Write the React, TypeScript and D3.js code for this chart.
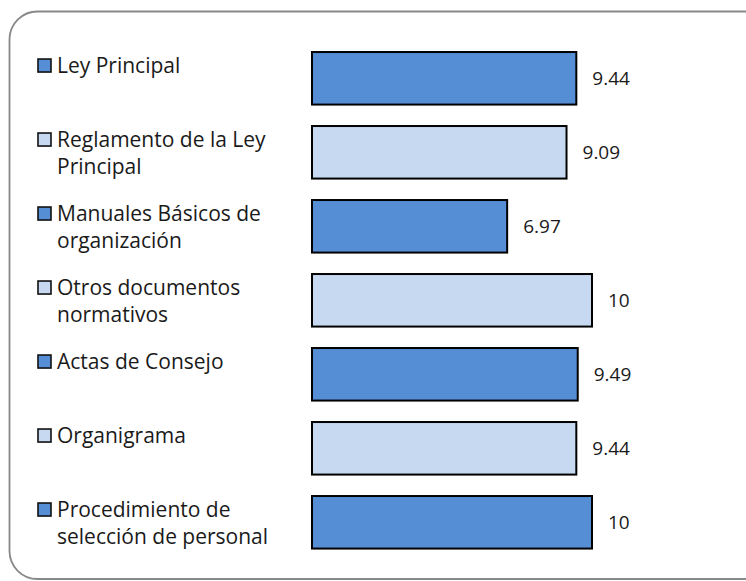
import React from "react";
import * as d3 from "d3";

const categories: string[] = [
  "Ley Principal",
  "Reglamento de la Ley Principal",
  "Manuales Básicos de organización",
  "Otros documentos normativos",
  "Actas de Consejo",
  "Organigrama",
  "Procedimiento de selección de personal",
];
const legendLines: string[][] = [
  ["Ley Principal"],
  ["Reglamento de la Ley", "Principal"],
  ["Manuales Básicos de", "organización"],
  ["Otros documentos", "normativos"],
  ["Actas de Consejo"],
  ["Organigrama"],
  ["Procedimiento de", "selección de personal"],
];
const values: number[] = [9.44, 9.09, 6.97, 10, 9.49, 9.44, 10];
const valueLabels: string[] = ["9.44", "9.09", "6.97", "10", "9.49", "9.44", "10"];

const W = 746;
const H = 581;
const DARK = "#558ED5";
const LIGHT = "#C6D9F1";
const FONT = "'Open Sans', sans-serif";

export default function App() {
  const x = d3.scaleLinear().domain([0, 10]).range([312, 592]);
  const y = d3
    .scaleBand<string>()
    .domain(categories)
    .range([41.3, 41.3 + 7 * 74])
    .paddingInner(0.29)
    .paddingOuter(0.145);
  const bw = y.bandwidth();
  const color = (i: number) => (i % 2 === 0 ? DARK : LIGHT);

  return (
    <svg
      width={W}
      height={H}
      style={{ position: "absolute", left: 0, top: 0, background: "#fff" }}
      fontFamily={FONT}
    >
      <rect x={0} y={0} width={W} height={H} fill="#fff" />
      <rect
        x={9.5}
        y={11.5}
        width={770}
        height={567.5}
        rx={28}
        ry={28}
        fill="#fff"
        stroke="#888888"
        strokeWidth={1.8}
      />
      {categories.map((c, i) => {
        const top = y(c) as number;
        return (
          <g key={c}>
            <rect
              x={x(0)}
              y={top}
              width={x(values[i]) - x(0)}
              height={bw}
              fill={color(i)}
              stroke="#000"
              strokeWidth={2}
            />
            <text
              x={x(values[i]) + 16}
              y={top + bw / 2}
              dy="0.36em"
              fontSize={19}
              fill="#1a1a1a"
            >
              {valueLabels[i]}
            </text>
            <rect
              x={38}
              y={top + 7}
              width={13}
              height={13}
              fill={color(i)}
              stroke="#111"
              strokeWidth={1.6}
            />
            {legendLines[i].map((ln, j) => (
              <text
                key={j}
                x={57}
                y={top + 21 + j * 26.7}
                fontSize={21}
                fill="#1a1a1a"
              >
                {ln}
              </text>
            ))}
          </g>
        );
      })}
    </svg>
  );
}
